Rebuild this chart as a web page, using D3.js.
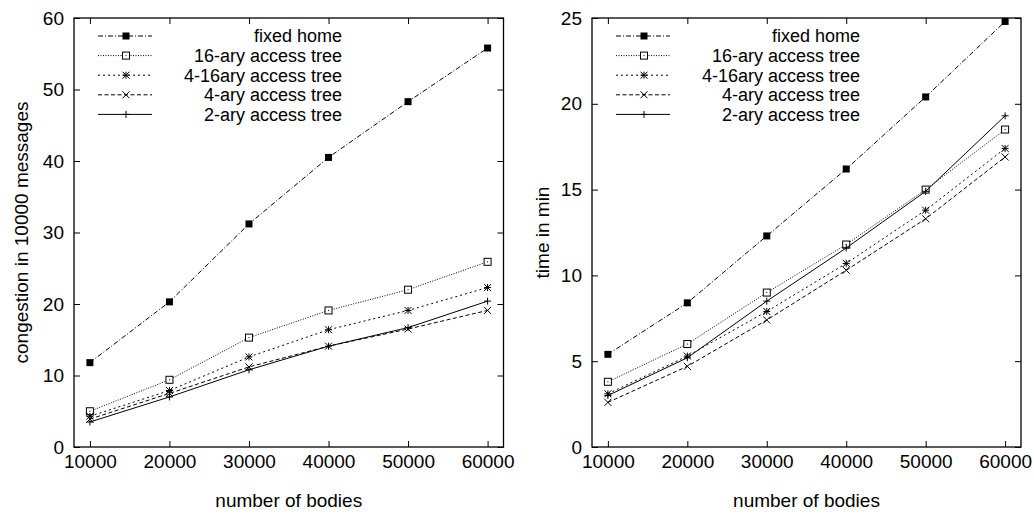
<!DOCTYPE html>
<html>
<head>
<meta charset="utf-8">
<script src="https://cdn.jsdelivr.net/npm/d3@7"></script>
<style>
  body { margin: 0; background: #fff; }
  svg text { font-family: "Liberation Sans", Arial, sans-serif; font-size: 19px; fill: #000; }
  svg text.legend-label { font-size: 18px; }
</style>
</head>
<body>
<div id="chart"></div>
<script>
// x values shared by both panels
const bodies = [10000, 20000, 30000, 40000, 50000, 60000]
const xTicks = [10000, 20000, 30000, 40000, 50000, 60000]

const seriesNames = ['fixed home', '16-ary access tree', '4-16ary access tree', '4-ary access tree', '2-ary access tree']

// left panel: congestion in 10000 messages
const congFixedHome = [11.8, 20.3, 31.2, 40.5, 48.3, 55.8]
const cong16ary = [5.0, 9.4, 15.3, 19.1, 22.0, 25.9]
const cong416ary = [4.3, 7.9, 12.6, 16.4, 19.1, 22.3]
const cong4ary = [3.9, 7.5, 11.2, 14.1, 16.5, 19.1]
const cong2ary = [3.5, 7.0, 10.8, 14.1, 16.7, 20.4]
const congTicks = [0, 10, 20, 30, 40, 50, 60]

// right panel: time in min
const timeFixedHome = [5.4, 8.4, 12.3, 16.2, 20.4, 24.8]
const time16ary = [3.8, 6.0, 9.0, 11.8, 15.0, 18.5]
const time416ary = [3.1, 5.3, 7.9, 10.7, 13.8, 17.4]
const time4ary = [2.6, 4.7, 7.4, 10.3, 13.3, 16.9]
const time2ary = [3.0, 5.2, 8.5, 11.6, 14.9, 19.3]
const timeTicks = [0, 5, 10, 15, 20, 25]

// line/point style per series (gnuplot monochrome look)
const styles = [
  { dash: '5,2,1,2', marker: 'filledSquare' },
  { dash: '1,1.5', marker: 'openSquare' },
  { dash: '2,3', marker: 'star' },
  { dash: '4,2.5', marker: 'cross' },
  { dash: null, marker: 'plus' }
]

const width = 1034
const height = 514

const svg = d3.select('#chart').append('svg')
  .attr('width', width)
  .attr('height', height)

function drawMarker(g, type, x, y) {
  const s = 3.5
  if (type === 'filledSquare') {
    g.append('rect').attr('x', x - s).attr('y', y - s).attr('width', 2 * s).attr('height', 2 * s)
      .attr('fill', '#000')
  } else if (type === 'openSquare') {
    g.append('rect').attr('x', x - s).attr('y', y - s).attr('width', 2 * s).attr('height', 2 * s)
      .attr('fill', '#fff').attr('stroke', '#000').attr('stroke-width', 1)
    g.append('rect').attr('x', x - 0.5).attr('y', y - 0.5).attr('width', 1).attr('height', 1)
      .attr('fill', '#000')
  } else {
    const segs = []
    if (type === 'plus' || type === 'star') segs.push([x - s, y, x + s, y], [x, y - s, x, y + s])
    if (type === 'cross' || type === 'star') segs.push([x - s, y - s, x + s, y + s], [x - s, y + s, x + s, y - s])
    segs.forEach(d => {
      g.append('line')
        .attr('x1', d[0]).attr('y1', d[1]).attr('x2', d[2]).attr('y2', d[3])
        .attr('stroke', '#000').attr('stroke-width', 1)
    })
  }
}

function drawPanel(opts) {
  const { left, right, series, yMax, yTicks, yTitle, yTitleX } = opts
  const top = 18
  const bottom = 447

  const xScale = d3.scaleLinear().domain([8000, 62000]).range([left, right])
  const yScale = d3.scaleLinear().domain([0, yMax]).range([bottom, top])

  const panel = svg.append('g').attr('class', 'panel')

  // axes: inward ticks, mirrored on top and right
  panel.append('g')
    .attr('transform', `translate(0, ${bottom})`)
    .call(d3.axisBottom(xScale).tickValues(xTicks).tickSize(-6).tickPadding(8).tickFormat(d3.format('d')))
  panel.append('g')
    .attr('transform', `translate(0, ${top})`)
    .call(d3.axisTop(xScale).tickValues(xTicks).tickSize(-6).tickFormat(''))
  panel.append('g')
    .attr('transform', `translate(${left}, 0)`)
    .call(d3.axisLeft(yScale).tickValues(yTicks).tickSize(-6).tickPadding(10).tickFormat(d3.format('d')))
  panel.append('g')
    .attr('transform', `translate(${right}, 0)`)
    .call(d3.axisRight(yScale).tickValues(yTicks).tickSize(-6).tickFormat(''))

  panel.selectAll('.domain').remove()
  panel.selectAll('.tick line').attr('stroke', '#000').attr('stroke-width', 1)
  panel.selectAll('.tick text').attr('font-size', null).attr('font-family', null).attr('fill', '#000')

  panel.append('rect')
    .attr('x', left).attr('y', top)
    .attr('width', right - left).attr('height', bottom - top)
    .attr('fill', 'none').attr('stroke', '#000').attr('stroke-width', 1.3)

  // series lines and points
  const line = d3.line()
    .x((d, i) => xScale(bodies[i]))
    .y(d => yScale(d))

  series.forEach((values, si) => {
    const st = styles[si]
    panel.append('path')
      .datum(values)
      .attr('d', line)
      .attr('fill', 'none')
      .attr('stroke', '#000')
      .attr('stroke-width', 1)
      .attr('stroke-dasharray', st.dash)
    const mg = panel.append('g')
    values.forEach((v, i) => drawMarker(mg, st.marker, xScale(bodies[i]), yScale(v)))
  })

  // legend
  seriesNames.forEach((name, si) => {
    const st = styles[si]
    const ly = 36 + si * 19.6
    panel.append('line')
      .attr('x1', left + 24).attr('x2', left + 78)
      .attr('y1', ly).attr('y2', ly)
      .attr('stroke', '#000').attr('stroke-width', 1)
      .attr('stroke-dasharray', st.dash)
    drawMarker(panel, st.marker, left + 52, ly)
    panel.append('text')
      .attr('class', 'legend-label')
      .attr('x', left + 268)
      .attr('y', ly)
      .attr('dy', '0.35em')
      .attr('text-anchor', 'end')
      .text(name)
  })

  // axis titles
  panel.append('text')
    .attr('x', (left + right) / 2)
    .attr('y', 500)
    .attr('dy', '0.35em')
    .attr('text-anchor', 'middle')
    .text('number of bodies')

  panel.append('text')
    .attr('transform', `translate(${yTitleX}, ${(top + bottom) / 2}) rotate(-90)`)
    .attr('dy', '0.35em')
    .attr('text-anchor', 'middle')
    .text(yTitle)
}

drawPanel({
  left: 74, right: 503.5,
  series: [congFixedHome, cong16ary, cong416ary, cong4ary, cong2ary],
  yMax: 60, yTicks: congTicks,
  yTitle: 'congestion in 10000 messages', yTitleX: 21
})

drawPanel({
  left: 592, right: 1021,
  series: [timeFixedHome, time16ary, time416ary, time4ary, time2ary],
  yMax: 25, yTicks: timeTicks,
  yTitle: 'time in min', yTitleX: 542
})
</script>
</body>
</html>
